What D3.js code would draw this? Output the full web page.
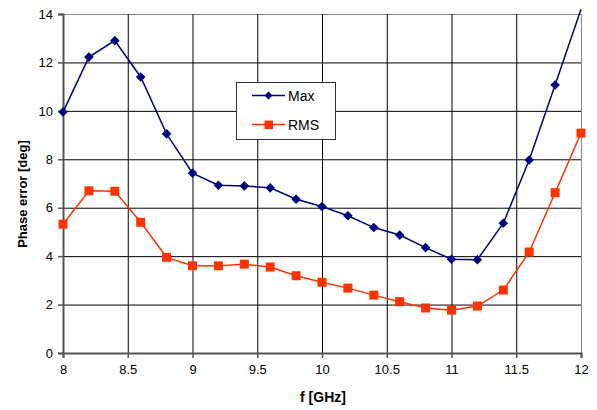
<!DOCTYPE html>
<html><head><meta charset="utf-8">
<script src="https://cdn.jsdelivr.net/npm/d3@7"></script>
<style>body{margin:0;background:#fff}svg{display:block}text{font-family:"Liberation Sans",Arial,sans-serif}</style>
</head><body>
<script>
const freq = [8,8.2,8.4,8.6,8.8,9,9.2,9.4,9.6,9.8,10,10.2,10.4,10.6,10.8,11,11.2,11.4,11.6,11.8,12];
const maxErr = [9.95,12.22,12.9,11.4,9.05,7.43,6.93,6.9,6.82,6.35,6.05,5.67,5.18,4.87,4.35,3.87,3.85,5.36,7.97,11.07,14.2];
const rmsErr = [5.32,6.7,6.68,5.4,3.95,3.6,3.6,3.67,3.55,3.19,2.92,2.68,2.39,2.12,1.86,1.77,1.94,2.6,4.17,6.62,9.08];
const xTicks = [8,8.5,9,9.5,10,10.5,11,11.5,12];
const yTicks = [0,2,4,6,8,10,12,14];
const seriesNames = ["Max","RMS"];

const W=597,H=410;
const svg=d3.select("body").append("svg").attr("width",W).attr("height",H);
const x=d3.scaleLinear().domain([8,12]).range([63,581]);
const y=d3.scaleLinear().domain([0,14]).range([353,14]);

// grid
svg.append("g").selectAll("line").data(yTicks).join("line")
  .attr("x1",63).attr("x2",581).attr("y1",d=>y(d)+0.5).attr("y2",d=>y(d)+0.5)
  .attr("stroke",d=>d===14?"#888":"#000").attr("stroke-width",1);
svg.append("g").selectAll("line").data(xTicks).join("line")
  .attr("y1",14).attr("y2",353).attr("x1",d=>x(d)+0.5).attr("x2",d=>x(d)+0.5)
  .attr("stroke",d=>d===12?"#888":"#000").attr("stroke-width",1);

// axes
const yAxis=d3.axisLeft(y).tickValues(yTicks).tickSize(5).tickPadding(5).tickFormat(d3.format("d"));
const gy=svg.append("g").attr("transform","translate(63,0)").call(yAxis);
const xAxis=d3.axisBottom(x).tickValues(xTicks).tickSize(5).tickPadding(7).tickFormat(d=>String(d));
const gx=svg.append("g").attr("transform","translate(0,353)").call(xAxis);
[gx,gy].forEach(g=>{
  g.select(".domain").attr("stroke","#555").attr("stroke-width",2);
  g.selectAll(".tick line").attr("stroke","#555").attr("stroke-width",1.5);
  g.selectAll("text").attr("font-size",13).attr("fill","#000").attr("font-family","Liberation Sans, Arial, sans-serif");
});

svg.append("text").attr("x",323).attr("y",402).attr("text-anchor","middle")
  .attr("font-size",14).attr("font-weight","bold").text("f [GHz]");
svg.append("text").attr("transform","translate(27,194) rotate(-90)").attr("text-anchor","middle")
  .attr("font-size",13).attr("font-weight","bold").text("Phase error [deg]");

const line=d3.line().x((d,i)=>x(freq[i])).y(d=>y(d));
const diamondPath="M0,-4.8L4.8,0L0,4.8L-4.8,0Z";
const diamondSmall="M0,-4L4,0L0,4L-4,0Z";

// RMS
svg.append("path").datum(rmsErr).attr("d",line).attr("fill","none").attr("stroke","#FF3300").attr("stroke-width",1.5);
svg.append("g").selectAll("rect").data(rmsErr).join("rect")
  .attr("x",(d,i)=>x(freq[i])-4.5).attr("y",d=>y(d)-4.5).attr("width",9).attr("height",9).attr("fill","#FF3300");

// Max
svg.append("path").datum(maxErr).attr("d",line).attr("fill","none").attr("stroke","#000080").attr("stroke-width",1.5);
svg.append("g").selectAll("path").data(maxErr.map((v,i)=>[freq[i],v]).filter(d=>d[1]<=14)).join("path")
  .attr("d",diamondPath).attr("transform",d=>`translate(${x(d[0])},${y(d[1])})`).attr("fill","#000080");

// legend
const lg=svg.append("g");
lg.append("rect").attr("x",236.5).attr("y",82.5).attr("width",99).attr("height",57)
  .attr("fill","#fff").attr("stroke","#333").attr("stroke-width",1);
lg.append("line").attr("x1",252).attr("x2",285).attr("y1",95.5).attr("y2",95.5).attr("stroke","#000080").attr("stroke-width",1.5);
lg.append("path").attr("d",diamondSmall).attr("transform","translate(268.5,95.5)").attr("fill","#000080");
lg.append("text").attr("x",288).attr("y",100.5).attr("font-size",14).text(seriesNames[0]);
lg.append("line").attr("x1",252).attr("x2",285).attr("y1",124.5).attr("y2",124.5).attr("stroke","#FF3300").attr("stroke-width",1.5);
lg.append("rect").attr("x",264.5).attr("y",120.5).attr("width",8.5).attr("height",8.5).attr("fill","#FF3300");
lg.append("text").attr("x",288).attr("y",129.5).attr("font-size",14).text(seriesNames[1]);
</script>
</body></html>
